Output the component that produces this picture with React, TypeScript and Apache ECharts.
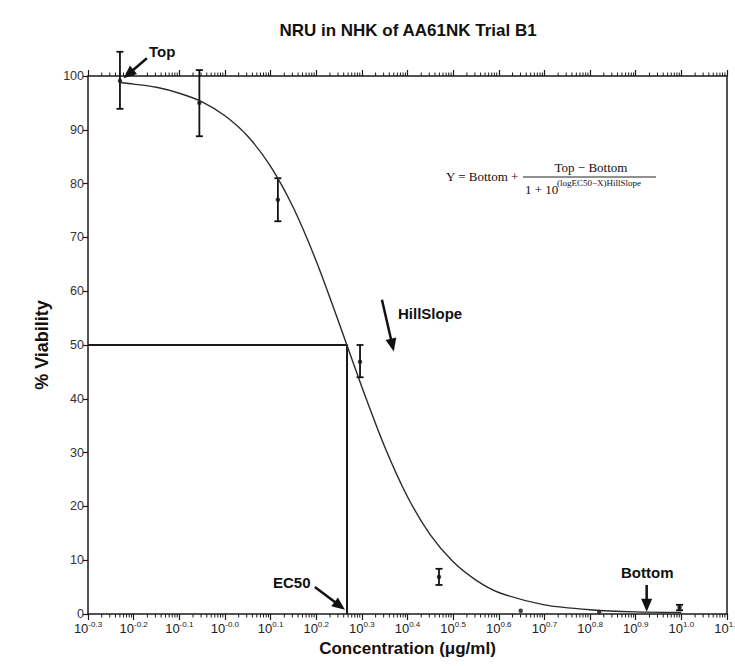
import React, { useEffect, useRef } from "react";
import * as echarts from "echarts";

// ---- data ----
const xTickExponents = ["-0.3", "-0.2", "-0.1", "-0.0", "0.1", "0.2", "0.3", "0.4", "0.5", "0.6", "0.7", "0.8", "0.9", "1.0", "1.1"];
const minorFactors = [2, 3, 4, 5, 6, 7, 8, 9];
const yTicks = [0, 10, 20, 30, 40, 50, 60, 70, 80, 90, 100];

const doseLog = [-0.23, -0.056, 0.116, 0.296, 0.469, 0.648, 0.82, 0.996];
const viabilityMean = [99.1, 95.0, 77.0, 46.9, 6.9, 0.6, 0.4, 1.2];
const viabilityLow = [93.9, 88.8, 73.0, 44.0, 5.4, 0.6, 0.4, 0.7];
const viabilityHigh = [104.5, 101.1, 81.0, 50.0, 8.4, 0.6, 0.4, 1.7];

const fitX = [-0.23, -0.2, -0.15, -0.1, -0.05, 0, 0.05, 0.1, 0.15, 0.2, 0.25, 0.3, 0.35, 0.4, 0.45, 0.5, 0.55, 0.6, 0.7, 0.8, 0.9, 1.0];
const fitY = [98.8, 98.5, 97.9, 96.8, 95.2, 92.6, 88.8, 83.2, 75.5, 65.6, 54.1, 42.2, 31.1, 21.8, 14.7, 9.7, 6.3, 4.0, 1.7, 0.8, 0.4, 0.3];

const ec50Log = 0.2675;
const halfViability = 50;

// annotation arrows: [fromX, fromY, toX, toY]
const topArrow = [-0.171, 103.3, -0.222, 99.6];
const hillArrow = [0.344, 58.4, 0.37, 48.8];
const ec50Arrow = [0.197, 5.0, 0.263, 0.8];
const bottomArrow = [0.924, 5.4, 0.924, 0.4];

const X_MIN = -0.3;
const X_MAX = 1.1;
const X_STEP = 0.1;

const SANS = "Liberation Sans, Arial, sans-serif";
const SERIF = "Liberation Serif, Times New Roman, serif";

export default function App() {
  const ref = useRef<HTMLDivElement>(null);

  useEffect(() => {
    if (!ref.current) return;
    const chart = echarts.init(ref.current, null, { renderer: "svg" });

    const minorPositions: number[][] = [];
    for (let i = 0; i < xTickExponents.length - 1; i++) {
      const base = X_MIN + i * X_STEP;
      minorFactors.forEach((k) => minorPositions.push([base + Math.log10(k) * X_STEP]));
    }

    const axisLineStyle = { color: "#1a1a1a", width: 1.5 };

    const option: any = {
      animation: false,
      backgroundColor: "#ffffff",
      grid: { left: 88, right: 8, top: 76, bottom: 52, containLabel: false, outerBoundsMode: "none" },
      xAxis: [
        {
          type: "value",
          position: "bottom",
          min: X_MIN,
          max: X_MAX,
          interval: X_STEP,
          name: "Concentration (\u03bcg/ml)",
          nameLocation: "middle",
          nameGap: 26,
          nameTextStyle: { fontFamily: SANS, fontWeight: "bold", fontSize: 17, color: "#111" },
          axisLine: { show: true, onZero: false, lineStyle: axisLineStyle },
          axisTick: { show: true, length: 6, lineStyle: { color: "#1a1a1a", width: 1.2 } },
          splitLine: { show: false },
          axisLabel: {
            margin: 6,
            hideOverlap: false,
            formatter: (v: number) => {
              const idx = Math.round((v - X_MIN) / X_STEP);
              const e = xTickExponents[idx] ?? "";
              return `{b|10}{s|${e}}`;
            },
            rich: {
              b: { fontFamily: SANS, fontSize: 13, color: "#222" },
              s: { fontFamily: SANS, fontSize: 8, color: "#222", padding: [0, 0, 8, 0] },
            },
          },
        },
        {
          type: "value",
          position: "top",
          min: X_MIN,
          max: X_MAX,
          interval: X_STEP,
          axisLine: { show: true, onZero: false, lineStyle: axisLineStyle },
          axisTick: { show: true, length: 6, lineStyle: { color: "#1a1a1a", width: 1.2 } },
          axisLabel: { show: false },
          splitLine: { show: false },
        },
      ],
      yAxis: [
        {
          type: "value",
          position: "left",
          min: 0,
          max: 100,
          interval: 10,
          name: "% Viability",
          nameLocation: "middle",
          nameGap: 37,
          nameTextStyle: { fontFamily: SANS, fontWeight: "bold", fontSize: 18, color: "#111" },
          axisLine: { show: true, onZero: false, lineStyle: axisLineStyle },
          axisTick: { show: true, length: 5, lineStyle: { color: "#1a1a1a", width: 1.2 } },
          axisLabel: {
            margin: 4,
            fontFamily: SANS,
            fontSize: 12.5,
            color: "#333",
            formatter: (v: number) => (yTicks.includes(v) ? String(v) : ""),
          },
          splitLine: { show: false },
        },
        {
          type: "value",
          position: "right",
          min: 0,
          max: 100,
          interval: 10,
          axisLine: { show: true, onZero: false, lineStyle: axisLineStyle },
          axisTick: { show: false },
          axisLabel: { show: false },
          splitLine: { show: false },
        },
      ],
      series: [
        {
          name: "minorTicks",
          type: "custom",
          silent: true,
          clip: false,
          data: minorPositions,
          encode: { x: 0 },
          renderItem: (params: any, api: any) => {
            const x = api.value(0);
            const pb = api.coord([x, 0]);
            const pt = api.coord([x, 100]);
            const st = { stroke: "#1a1a1a", lineWidth: 1 };
            return {
              type: "group",
              children: [
                { type: "line", shape: { x1: pb[0], y1: pb[1], x2: pb[0], y2: pb[1] + 3.5 }, style: st },
                { type: "line", shape: { x1: pt[0], y1: pt[1], x2: pt[0], y2: pt[1] - 3.5 }, style: st },
              ],
            };
          },
        },
        {
          name: "EC50 guide",
          type: "line",
          silent: true,
          clip: false,
          symbol: "none",
          data: [
            [X_MIN, halfViability],
            [ec50Log, halfViability],
            [ec50Log, 0],
          ],
          lineStyle: { color: "#1a1a1a", width: 2 },
        },
        {
          name: "fit",
          type: "line",
          silent: true,
          clip: false,
          symbol: "none",
          smooth: 0.25,
          data: fitX.map((x, i) => [x, fitY[i]]),
          lineStyle: { color: "#2a2a2a", width: 1.4 },
        },
        {
          name: "arrows",
          type: "custom",
          silent: true,
          clip: false,
          data: [topArrow, hillArrow, ec50Arrow, bottomArrow],
          encode: { x: [0, 2], y: [1, 3] },
          renderItem: (params: any, api: any) => {
            const p0 = api.coord([api.value(0), api.value(1)]);
            const p1 = api.coord([api.value(2), api.value(3)]);
            const dx = p1[0] - p0[0];
            const dy = p1[1] - p0[1];
            const len = Math.sqrt(dx * dx + dy * dy) || 1;
            const ux = dx / len;
            const uy = dy / len;
            const headL = 13;
            const headW = 5.5;
            const bx = p1[0] - ux * headL;
            const by = p1[1] - uy * headL;
            return {
              type: "group",
              children: [
                {
                  type: "line",
                  shape: { x1: p0[0], y1: p0[1], x2: bx + ux * 2, y2: by + uy * 2 },
                  style: { stroke: "#111", lineWidth: 2.5 },
                },
                {
                  type: "polygon",
                  shape: {
                    points: [
                      [p1[0], p1[1]],
                      [bx - uy * headW, by + ux * headW],
                      [bx + uy * headW, by - ux * headW],
                    ],
                  },
                  style: { fill: "#111" },
                },
              ],
            };
          },
        },
        {
          name: "errorBars",
          type: "custom",
          silent: true,
          clip: false,
          data: doseLog.map((x, i) => [x, viabilityLow[i], viabilityHigh[i]]),
          encode: { x: 0, y: [1, 2] },
          renderItem: (params: any, api: any) => {
            const x = api.value(0);
            const lo = api.value(1);
            const hi = api.value(2);
            const pl = api.coord([x, lo]);
            const ph = api.coord([x, hi]);
            const st = { stroke: "#111", lineWidth: 1.8 };
            const cw = 3.5;
            if (Math.abs(pl[1] - ph[1]) < 0.5) return { type: "group", children: [] };
            return {
              type: "group",
              children: [
                { type: "line", shape: { x1: pl[0], y1: pl[1], x2: ph[0], y2: ph[1] }, style: st },
                { type: "line", shape: { x1: pl[0] - cw, y1: pl[1], x2: pl[0] + cw, y2: pl[1] }, style: st },
                { type: "line", shape: { x1: ph[0] - cw, y1: ph[1], x2: ph[0] + cw, y2: ph[1] }, style: st },
              ],
            };
          },
        },
        {
          name: "mean",
          type: "scatter",
          silent: true,
          symbol: "circle",
          symbolSize: 4.5,
          data: doseLog.map((x, i) => [x, viabilityMean[i]]),
          itemStyle: { color: "#111" },
        },
      ],
      graphic: [
        {
          type: "text",
          x: 408,
          y: 30,
          style: {
            text: "NRU in NHK of AA61NK Trial B1",
            fontFamily: SANS,
            fontWeight: "bold",
            fontSize: 17,
            fill: "#111",
            textAlign: "center",
            textVerticalAlign: "middle",
          },
        },
        {
          type: "text",
          x: 149,
          y: 51,
          style: { text: "Top", fontFamily: SANS, fontWeight: "bold", fontSize: 15, fill: "#111", textVerticalAlign: "middle" },
        },
        {
          type: "text",
          x: 398,
          y: 313,
          style: { text: "HillSlope", fontFamily: SANS, fontWeight: "bold", fontSize: 15, fill: "#111", textVerticalAlign: "middle" },
        },
        {
          type: "text",
          x: 273,
          y: 582,
          style: { text: "EC50", fontFamily: SANS, fontWeight: "bold", fontSize: 15, fill: "#111", textVerticalAlign: "middle" },
        },
        {
          type: "text",
          x: 621,
          y: 572,
          style: { text: "Bottom", fontFamily: SANS, fontWeight: "bold", fontSize: 15, fill: "#111", textVerticalAlign: "middle" },
        },
        // formula
        {
          type: "text",
          x: 446,
          y: 176,
          style: { text: "Y = Bottom +", fontFamily: SERIF, fontSize: 13, fill: "#111", textVerticalAlign: "middle" },
        },
        {
          type: "text",
          x: 591,
          y: 167,
          style: { text: "Top \u2212 Bottom", fontFamily: SERIF, fontSize: 13, fill: "#111", textAlign: "center", textVerticalAlign: "middle" },
        },
        {
          type: "line",
          shape: { x1: 523, y1: 177, x2: 656, y2: 177 },
          style: { stroke: "#222", lineWidth: 1 },
        },
        {
          type: "text",
          x: 525,
          y: 189,
          style: { text: "1 + 10", fontFamily: SERIF, fontSize: 13, fill: "#111", textVerticalAlign: "middle" },
        },
        {
          type: "text",
          x: 557,
          y: 183,
          style: { text: "(logEC50\u2212X)HillSlope", fontFamily: SERIF, fontSize: 9, fill: "#111", textVerticalAlign: "middle" },
        },
      ],
    };

    chart.setOption(option);
    return () => chart.dispose();
  }, []);

  return <div ref={ref} style={{ position: "fixed", left: 0, top: 0, width: 735, height: 666 }} />;
}
